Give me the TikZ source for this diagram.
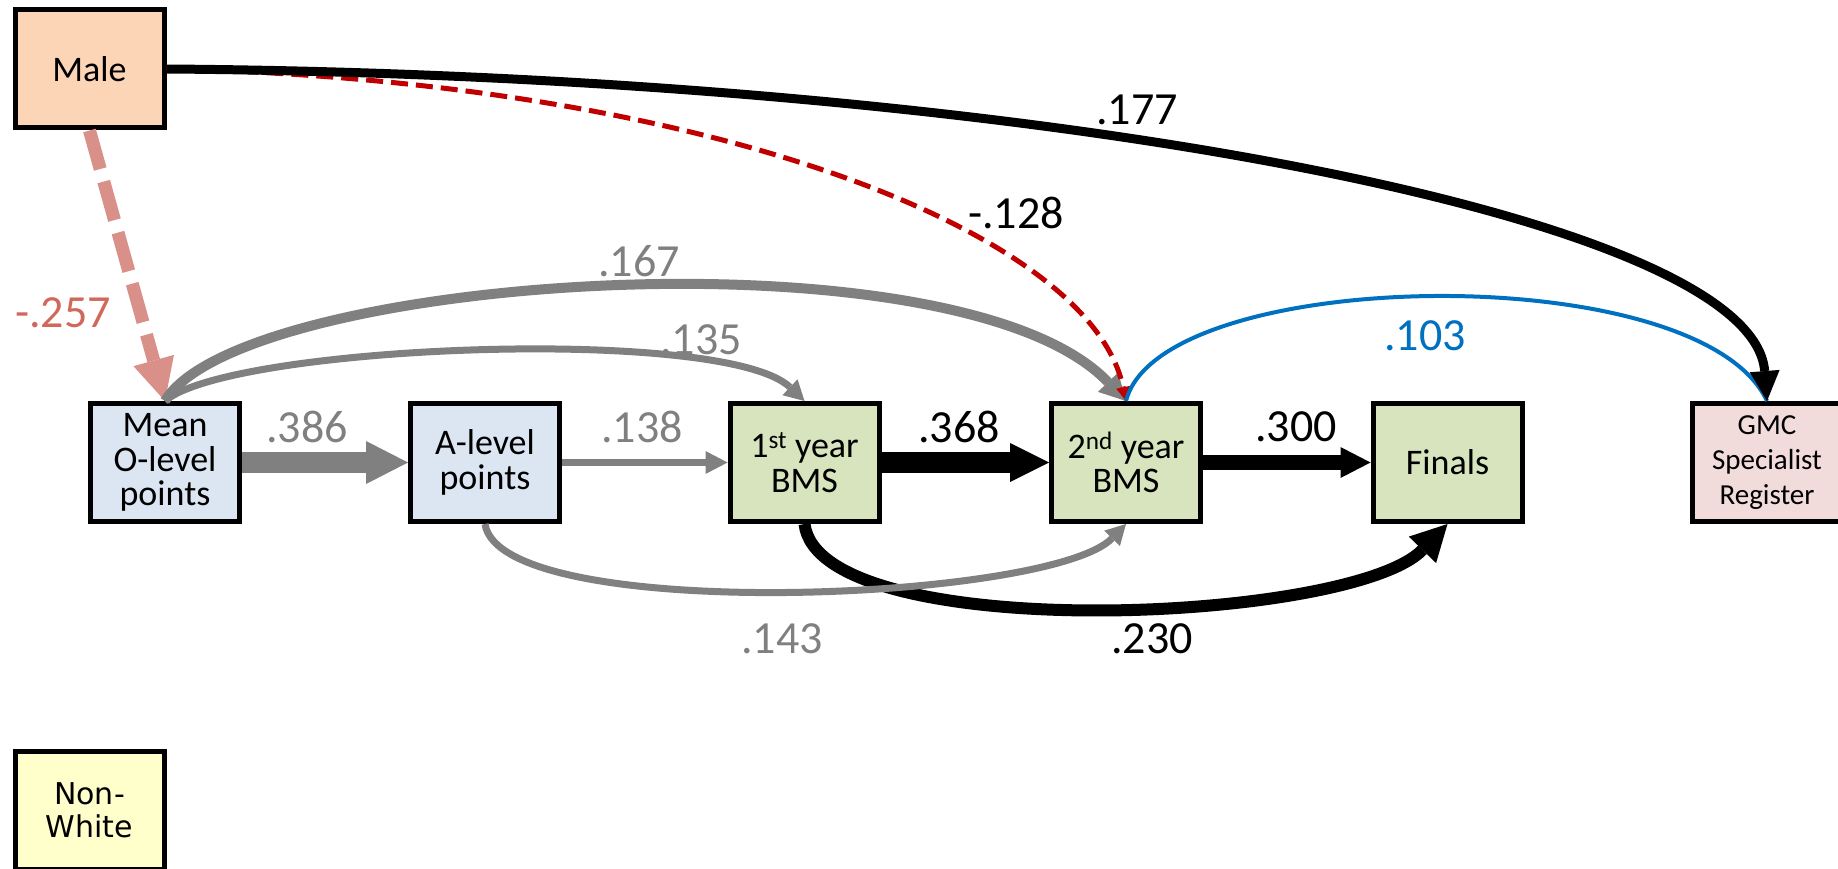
\documentclass[tikz,border=0pt]{standalone}
\usepackage{fontspec}
\setmainfont{Carlito}
\newfontfamily\dvs{DejaVu Sans}
\usetikzlibrary{arrows.meta}
\definecolor{peach}{HTML}{FBD5B5}
\definecolor{lblue}{HTML}{DCE6F2}
\definecolor{lgreen}{HTML}{D7E4BD}
\definecolor{lpink}{HTML}{F2DCDB}
\definecolor{lyellow}{HTML}{FFFFCC}
\definecolor{pgray}{HTML}{808080}
\definecolor{salmon}{HTML}{D99088}
\definecolor{salmontxt}{HTML}{D0695B}
\definecolor{dred}{HTML}{C00000}
\definecolor{pblue}{HTML}{0070C0}
\begin{document}
\begin{tikzpicture}[x=1pt,y=-1pt,
  box/.style={draw=black, line width=5pt, minimum width=149pt, minimum height=118pt,
    inner sep=0pt, align=center, font=\fontsize{36}{34.5}\selectfont},
  lbl/.style={inner sep=0pt, font=\fontsize{46}{46}\selectfont},
  conn/.style={line cap=butt}]
\clip (0,0) rectangle (1838,869);
\fill[white] (0,0) rectangle (1838,869);

% nodes
\node[box, fill=peach, font=\fontsize{36}{36}\selectfont] (male) at (89.5,69) {Male};
\node[box, fill=lyellow, font=\dvs\fontsize{30}{33}\selectfont] (nonwhite) at (89.5,810) {Non-\\White};
\node[box, fill=lblue] (mean) at (165,462.5) {Mean\\O-level\\points};
\node[box, fill=lblue] (alevel) at (485,462.5) {A-level\\points};
\node[box, fill=lgreen] (y1) at (804.5,462.5) {1\textsuperscript{st} year\\BMS};
\node[box, fill=lgreen] (y2) at (1126,462.5) {2\textsuperscript{nd} year\\BMS};
\node[box, fill=lgreen] (finals) at (1447.5,462.5) {Finals};
\node[box, fill=lpink, font=\fontsize{29}{35}\selectfont] (gmc) at (1767,462.5) {GMC\\Specialist\\Register};

% connectors
\draw[conn, salmon, line width=13pt, dash pattern=on 40pt off 13pt,
  -{Triangle[width=42pt,length=42pt,line width=0pt]}] (male.south) -- (mean.north);

\draw[conn, pgray, line width=10pt, -{Triangle[width=28pt,length=26pt,line width=0pt]}]
  (mean.north) .. controls +(75,-126) and +(-168,-176) .. (y2.north);
\draw[conn, pgray, line width=7pt, -{Triangle[width=22pt,length=20pt,line width=0pt]}]
  (mean.north) .. controls +(65,-56) and +(-80,-76) .. (y1.north);

\draw[conn, black, line width=12pt, -{Triangle[width=38pt,length=36pt,line width=0pt]}]
  (y1.south) .. controls +(15,122) and +(-97,100) .. (finals.south);
\draw[conn, pgray, line width=7pt, -{Triangle[width=22pt,length=20pt,line width=0pt]}]
  (alevel.south) .. controls +(15,100) and +(-76,78) .. (y2.south);

\draw[conn, pgray, line width=21pt, -{Triangle[width=43pt,length=42pt,line width=0pt]}] (mean.east) -- (alevel.west);
\draw[conn, pgray, line width=7pt, -{Triangle[width=23pt,length=22pt,line width=0pt]}] (alevel.east) -- (y1.west);
\draw[conn, black, line width=21pt, -{Triangle[width=39pt,length=39pt,line width=0pt]}] (y1.east) -- (y2.west);
\draw[conn, black, line width=15pt, -{Triangle[width=31pt,length=30pt,line width=0pt]}] (y2.east) -- (finals.west);

\draw[conn, dred, line width=5pt, dash pattern=on 17pt off 8pt,
  -{Triangle[width=14pt,length=14pt,line width=0pt]}]
  (male.east) .. controls +(534,11) and +(-36,-171) .. (y2.north);
\draw[conn, pblue, line width=4pt]
  (y2.north) .. controls +(34,-135) and +(-67,-145) .. (gmc.north);
\draw[conn, black, line width=9pt, -{Triangle[width=30pt,length=30pt,line width=0pt]}]
  (male.east) .. controls +(834,6) and +(-15,-190) .. (gmc.north);

% labels
\node[lbl, text=pgray] (t386) at (307,427) {.386};
\node[lbl, text=pgray] (t138) at (642,427) {.138};
\node[lbl] (t368) at (959,427) {.368};
\node[lbl] (t300) at (1296,427) {.300};
\node[lbl, text=pgray] (t167) at (639,261) {.167};
\node[lbl, text=pgray] (t135) at (701,340) {.135};
\node[lbl, text=pgray] (t143) at (782,639) {.143};
\node[lbl] (t230) at (1152,639) {.230};
\node[lbl] (t177) at (1137,110) {.177};
\node[lbl] (t128) at (1016,213) {-.128};
\node[lbl, text=pblue] (t103) at (1425,336) {.103};
\node[lbl, text=salmontxt] (t257) at (63,313) {-.257};
\end{tikzpicture}
\end{document}
